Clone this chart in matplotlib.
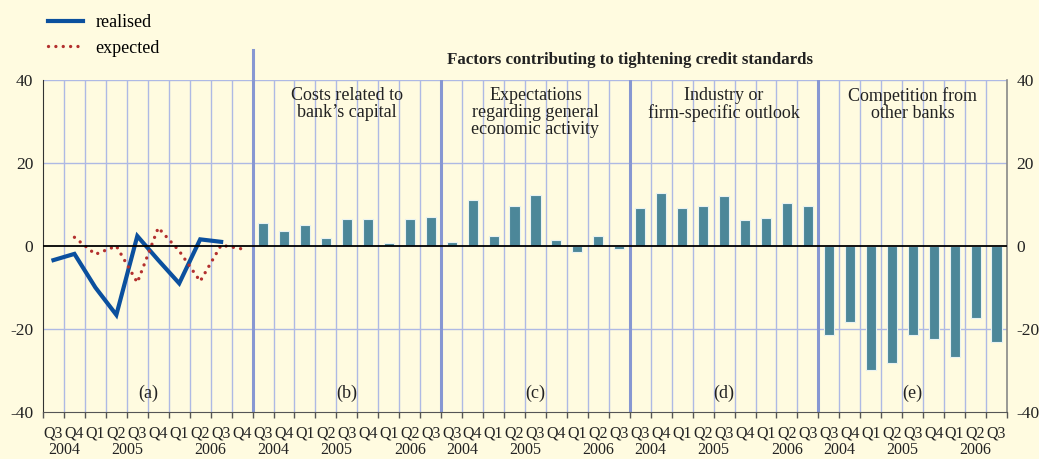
import numpy as np
import matplotlib.pyplot as plt
from matplotlib.lines import Line2D

plt.rcParams['font.family'] = ['Liberation Serif', 'DejaVu Serif']

# panel (a): realised / expected, Q3 2004 - Q4 2006
quarters_a = ['Q3', 'Q4', 'Q1', 'Q2', 'Q3', 'Q4', 'Q1', 'Q2', 'Q3', 'Q4']
realised = [-3.4, -1.9, -10.0, -16.6, 2.4, -3.4, -9.0, 1.6, 1.0, np.nan]
expected = [np.nan, 2.1, -2.0, 0.0, -8.8, 4.4, -1.2, -8.5, 0.2, -0.7]

# panels (b)-(e): factors, Q3 2004 - Q3 2006
quarters_b = ['Q3', 'Q4', 'Q1', 'Q2', 'Q3', 'Q4', 'Q1', 'Q2', 'Q3']
costs_capital = [5.5, 3.7, 5.0, 1.9, 6.4, 6.6, 0.7, 6.6, 7.0]
expectations = [1.0, 11.2, 2.3, 9.6, 12.4, 1.5, -1.4, 2.3, -0.7]
industry = [9.2, 12.8, 9.2, 9.6, 12.0, 6.3, 6.7, 10.3, 9.6]
competition = [-21.4, -18.3, -29.9, -28.3, -21.5, -22.5, -26.7, -17.4, -23.1]

panel_titles = ['Costs related to\nbank\u2019s capital',
                'Expectations\nregarding general\neconomic activity',
                'Industry or\nfirm-specific outlook',
                'Competition from\nother banks']
panel_letters = ['(a)', '(b)', '(c)', '(d)', '(e)']

bg = '#fffbe0'
grid_c = '#aeb9e4'
sep_c = '#8797d2'
bar_c = '#4c8799'
dots = (0, (0.01, 2.2))

fig = plt.figure(figsize=(10.39, 4.59), dpi=100, facecolor=bg)
ax = fig.add_axes([43 / 1039, 47 / 459, 964 / 1039, 332 / 459], facecolor=bg)

na = len(quarters_a)
nb = len(quarters_b)
starts = [0, na, na + nb, na + 2 * nb, na + 3 * nb]
total = na + 4 * nb

# gridlines
for x in range(1, total):
    ax.axvline(x, color=grid_c, lw=1.0, zorder=1)
for y in [40, 20, -20]:
    ax.axhline(y, color=grid_c, lw=1.0, zorder=1)
for s in starts[1:]:
    ax.axvline(s, color=sep_c, lw=2.2, zorder=2)
# the first separator runs up to the title row
ax.plot([starts[1], starts[1]], [40, 47.2], color=sep_c, lw=2.2, clip_on=False, zorder=2)

# panel (a) lines
xa = np.arange(na) + 0.5
ax.plot(xa, realised, color='#0b509e', lw=3, zorder=4, solid_joinstyle='miter')
ax.plot(xa, expected, color='#b3302e', lw=2.4, ls=dots, dash_capstyle='round', zorder=4)

# bars
for s, vals in zip(starts[1:], [costs_capital, expectations, industry, competition]):
    xb = s + np.arange(nb) + 0.5
    ax.bar(xb, vals, width=0.48, color=bar_c, edgecolor='#e8f2f2', lw=0.8, zorder=3)

ax.axhline(0, color='black', lw=1.3, zorder=5)

ax.set_xlim(0, total)
ax.set_ylim(-40, 40)
ax.set_yticks([-40, -20, 0, 20, 40])
ax.set_yticklabels(['-40', '-20', '0', '20', '40'])
ax.tick_params(axis='y', length=0, labelsize=12.5, labelright=True, pad=7, colors='#222222')

centres = []
labels = []
for i, s in enumerate(starts):
    q = quarters_a if i == 0 else quarters_b
    centres += list(s + np.arange(len(q)) + 0.5)
    labels += q
ax.set_xticks(centres)
ax.set_xticklabels(labels)
ax.set_xticks(np.arange(0, total + 1), minor=True)
ax.tick_params(axis='x', which='major', length=0, labelsize=11.5, pad=10, colors='#222222')
ax.tick_params(axis='x', which='minor', length=4, width=1, color='#555555', direction='out')

ax.spines['top'].set_visible(False)
ax.spines['left'].set_color('#333333')
ax.spines['bottom'].set_color('#555555')
ax.spines['right'].set_color('#888888')
ax.spines['right'].set_linewidth(1.2)

# year labels
tr = ax.get_xaxis_transform()
for i, s in enumerate(starts):
    y2006 = s + 8.0 if i == 0 else s + 7.5
    for yr, xp in [('2004', s + 1.0), ('2005', s + 4.0), ('2006', y2006)]:
        ax.text(xp, -0.114, yr, transform=tr, ha='center', va='center', fontsize=11.5, color='#222222')

# panel letters and titles
widths = [na, nb, nb, nb, nb]
for i, s in enumerate(starts):
    ax.text(s + widths[i] / 2, -35.5, panel_letters[i], ha='center', va='center', fontsize=13, color='#222222')
for i, s in enumerate(starts[1:]):
    ax.text(s + nb / 2, 38.2, panel_titles[i], ha='center', va='top', fontsize=13,
            linespacing=1.0, color='#222222', zorder=6)

ax.text((starts[1] + total) / 2, 44.7, 'Factors contributing to tightening credit standards',
        ha='center', va='center', fontsize=12.2, fontweight='bold', color='#222222')

handles = [Line2D([], [], color='#0b509e', lw=3),
           Line2D([], [], color='#b3302e', lw=2.4, ls=dots, dash_capstyle='round')]
fig.legend(handles, ['realised', 'expected'], loc='upper left', bbox_to_anchor=(0.031, 1.004),
           frameon=False, fontsize=13, handlelength=1.9, labelspacing=0.45, handletextpad=0.7)

fig.savefig('out.png', dpi=100, facecolor=bg)
